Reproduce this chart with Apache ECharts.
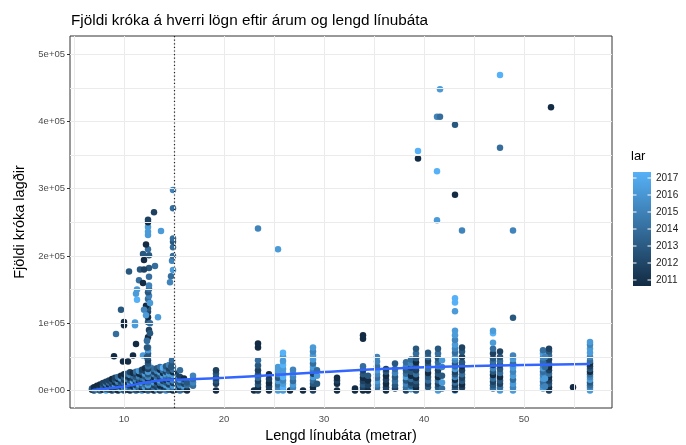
<!DOCTYPE html>
<html><head><meta charset="utf-8">
<script src="https://cdn.jsdelivr.net/npm/echarts@6/dist/echarts.min.js"></script>
<style>html,body{margin:0;padding:0;background:#fff}#c{width:686px;height:445px}</style>
</head><body><div id="c"></div>
<script>
// [length (m), hooks, year]
const smallBoats = [
[6.8,1000,2011],[6.8,3000,2013],[7.0,0,2012],[7.0,2000,2014],[7.0,5000,2011],
[7.3,1000,2015],[7.3,4000,2012],[7.3,7000,2011],[7.6,0,2013],[7.6,3000,2016],[7.6,6000,2012],[7.6,9000,2011],
[7.9,1000,2011],[7.9,4000,2014],[7.9,8000,2013],[7.9,11000,2012],
[8.2,0,2016],[8.2,3000,2012],[8.2,6000,2011],[8.2,10000,2015],[8.2,13000,2012],
[8.5,1000,2013],[8.5,5000,2017],[8.5,8000,2011],[8.5,12000,2014],[8.5,15000,2012],
[8.8,0,2012],[8.8,3000,2011],[8.8,7000,2015],[8.8,10000,2012],[8.8,14000,2013],[8.8,17000,2011],
[9.1,1000,2014],[9.1,4000,2012],[9.1,8000,2016],[9.1,12000,2011],[9.1,16000,2013],[9.1,19000,2012],
[9.4,0,2011],[9.4,5000,2013],[9.4,9000,2012],[9.4,13000,2015],[9.4,17000,2011],[9.4,20000,2014],
[9.7,2000,2016],[9.7,6000,2011],[9.7,10000,2013],[9.7,14000,2012],[9.7,18000,2016],[9.7,22000,2011],
[10.0,0,2013],[10.0,4000,2015],[10.0,8000,2011],[10.0,12000,2014],[10.0,16000,2012],[10.0,20000,2013],[10.0,24000,2011],
[10.3,1000,2012],[10.3,5000,2016],[10.3,9000,2013],[10.3,13000,2011],[10.3,17000,2015],[10.3,21000,2012],[10.3,25000,2014],
[10.6,0,2011],[10.6,3000,2014],[10.6,7000,2012],[10.6,11000,2016],[10.6,15000,2013],[10.6,19000,2011],[10.6,23000,2015],[10.6,27000,2012],
[10.9,2000,2015],[10.9,6000,2011],[10.9,10000,2013],[10.9,14000,2017],[10.9,18000,2012],[10.9,22000,2014],[10.9,26000,2011],
[11.2,0,2013],[11.2,4000,2016],[11.2,8000,2012],[11.2,12000,2011],[11.2,16000,2015],[11.2,20000,2013],[11.2,24000,2012],[11.2,28000,2014],
[11.5,1000,2012],[11.5,5000,2014],[11.5,9000,2016],[11.5,13000,2011],[11.5,17000,2013],[11.5,21000,2015],[11.5,25000,2011],[11.5,29000,2016],
[11.8,0,2015],[11.8,3000,2011],[11.8,7000,2013],[11.8,11000,2016],[11.8,15000,2012],[11.8,19000,2014],[11.8,23000,2011],[11.8,27000,2013],[11.8,31000,2012],
[12.1,1000,2011],[12.1,5000,2016],[12.1,9000,2014],[12.1,13000,2012],[12.1,17000,2015],[12.1,21000,2013],[12.1,25000,2016],[12.1,29000,2012],[12.1,33000,2011],
[12.7,2000,2012],[12.7,6000,2015],[12.7,10000,2011],[12.7,14000,2013],[12.7,18000,2016],[12.7,22000,2012],[12.7,26000,2014],[12.7,30000,2011],[12.7,34000,2015],
[13.0,0,2011],[13.0,4000,2014],[13.0,8000,2012],[13.0,12000,2016],[13.0,16000,2013],[13.0,20000,2011],[13.0,24000,2015],[13.0,28000,2012],[13.0,32000,2014],
[13.3,1000,2016],[13.3,5000,2012],[13.3,9000,2013],[13.3,13000,2011],[13.3,17000,2016],[13.3,21000,2014],[13.3,25000,2012],[13.3,29000,2015],[13.3,33000,2013],
[13.6,0,2012],[13.6,3000,2015],[13.6,7000,2011],[13.6,11000,2014],[13.6,15000,2016],[13.6,19000,2012],[13.6,23000,2013],[13.6,27000,2016],[13.6,31000,2011],[13.6,35000,2014],
[13.9,2000,2014],[13.9,6000,2011],[13.9,10000,2015],[13.9,14000,2012],[13.9,18000,2013],[13.9,22000,2016],[13.9,26000,2011],[13.9,30000,2014],[13.9,34000,2017],
[14.2,0,2015],[14.2,4000,2012],[14.2,8000,2016],[14.2,12000,2013],[14.2,16000,2011],[14.2,20000,2014],[14.2,24000,2016],[14.2,28000,2012],[14.2,32000,2015],[14.2,36000,2013],
[14.5,1000,2013],[14.5,5000,2016],[14.5,9000,2012],[14.5,13000,2015],[14.5,17000,2011],[14.5,21000,2014],[14.5,25000,2016],[14.5,29000,2013],[14.5,33000,2012],[14.5,38000,2015],
[15.2,1000,2012],[15.2,5000,2016],[15.2,9000,2011],[15.2,13000,2014],[15.2,17000,2013],[15.2,21000,2016],[15.2,25000,2012],
[15.6,0,2014],[15.6,4000,2011],[15.6,8000,2015],[15.6,12000,2013],[15.6,16000,2016],[15.6,20000,2012],[15.6,30000,2014],
[16.0,2000,2013],[16.0,6000,2016],[16.0,10000,2012],[16.0,14000,2014],[16.0,18000,2011],
[16.3,0,2011],[16.3,8000,2014],[16.3,12000,2013],[16.9,7000,2014],[16.9,12000,2015],[16.9,17000,2014],[16.9,22000,2015]
];
const spikeColumns = [
[12.4,0,2013],[12.4,4000,2012],[12.4,8000,2016],[12.4,12000,2014],[12.4,16000,2011],[12.4,20000,2015],[12.4,24000,2013],[12.4,28000,2016],[12.4,32000,2012],[12.4,36000,2014],[12.4,40000,2013],[12.4,45000,2012],[12.4,50000,2014],[12.4,55000,2013],[12.4,60000,2016],[12.4,64000,2014],[12.3,74000,2015],[12.4,79000,2011],[12.5,90000,2012],[12.4,102000,2013],[12.4,109000,2011],[12.4,117000,2012],[12.4,122000,2013],[12.2,126000,2011],[12.4,136000,2014],[12.5,141000,2015],[12.4,146000,2013],[12.5,151000,2014],[12.5,156000,2015],[12.5,169000,2014],[12.5,182000,2013],[12.5,201000,2013],[12.4,210000,2014],[12.4,231000,2016],[12.4,236000,2016],[12.4,243000,2016],[12.4,250000,2011],[12.4,254000,2012],
[13.0,265000,2012],[13.1,185000,2014],
[14.9,0,2011],[14.9,3000,2014],[14.9,7000,2016],[14.9,11000,2012],[14.9,15000,2015],[14.9,19000,2013],[14.9,23000,2016],[14.9,27000,2011],[14.9,31000,2014],[14.9,35000,2015],[14.8,40000,2013],[14.8,45000,2014],
[14.6,161000,2015],[14.7,170000,2014],[14.9,179000,2016],[14.8,193000,2015],[14.9,200000,2014],[14.9,213000,2014],[14.9,221000,2013],[14.9,226000,2014],[14.9,271000,2014],[14.9,298000,2015],
[9.7,120000,2013],[10.0,102000,2011],[10.0,97000,2011],[11.1,101000,2016],[11.1,97000,2016],[9.2,84000,2014],[9.0,51000,2011],[9.9,43000,2011],[10.4,43000,2011],[10.9,52000,2011],[11.2,69000,2011],[11.9,52000,2016],[12.3,50000,2013],
[10.5,177000,2013],[11.6,180000,2013],[12.0,180000,2012],[11.5,164000,2014],[11.9,160000,2011],[11.3,150000,2016],[11.2,144000,2016],[11.3,135000,2017],[12.0,194000,2011],[11.9,203000,2013],[12.2,217000,2011],[13.7,237000,2016],[13.4,109000,2016],[12.3,64000,2013],[12.3,74000,2014],
[12.0,120000,2015],[12.6,130000,2016],[12.2,112000,2016],[12.6,100000,2014],[12.6,85000,2013],[14.7,35000,2013]
];
const midBoats = [
[19.2,0,2011],[19.2,10000,2012],[19.2,15000,2013],[19.2,19000,2012],[19.2,25000,2013],[19.2,30000,2012],
[23.0,0,2011],[23.4,0,2012],[23.4,4000,2011],[23.4,9000,2013],[23.4,14000,2012],[23.4,19000,2014],[23.4,24000,2013],[23.4,30000,2012],[23.4,37000,2013],[23.4,45000,2014],[23.4,64000,2011],[23.4,70000,2011],
[24.5,0,2011],[24.5,6000,2012],[24.5,11000,2011],[24.5,17000,2012],[24.5,24000,2011],
[25.4,0,2016],[25.4,4000,2015],[25.4,9000,2014],[25.4,14000,2016],[25.4,19000,2013],[25.4,24000,2015],[25.4,30000,2016],[25.4,35000,2016],
[25.9,0,2016],[25.9,5000,2017],[25.9,10000,2016],[25.9,15000,2015],[25.9,20000,2017],[25.9,26000,2016],[25.9,32000,2016],[25.9,38000,2017],[25.9,44000,2016],[25.9,51000,2016],[25.9,56000,2017],
[26.6,0,2011],[26.9,4000,2015],[26.9,9000,2016],[26.9,14000,2014],[26.9,20000,2015],[26.9,26000,2016],[26.9,31000,2015],
[27.9,0,2011],
[28.9,0,2012],[28.9,5000,2011],[28.9,10000,2013],[28.9,15000,2014],[28.9,20000,2016],[28.9,25000,2012],[28.9,30000,2015],[28.9,35000,2016],[28.9,40000,2014],[28.9,46000,2016],[28.9,52000,2016],[28.9,58000,2015],[28.9,64000,2016],
[29.3,10000,2013],[29.3,22000,2016],[29.3,30000,2014],
[31.3,0,2011],[31.3,10000,2011],[31.3,15000,2012],[31.3,19000,2011],
[33.1,0,2011],[33.1,3000,2011],
[33.9,0,2011],[33.9,4000,2012],[33.9,9000,2013],[33.9,14000,2012],[33.9,19000,2011],[33.9,24000,2013],[33.9,30000,2012],[33.9,36000,2014],[33.9,77000,2011],[33.9,82000,2011],
[34.4,0,2011],[34.4,8000,2012],[34.4,15000,2011],[34.4,22000,2013],
[35.3,4000,2014],[35.3,9000,2015],[35.3,14000,2016],[35.3,19000,2014],[35.3,24000,2015],[35.3,30000,2016],[35.3,36000,2014],[35.3,43000,2015],[35.3,50000,2015],
[36.2,0,2011],[36.2,5000,2012],[36.2,10000,2011],[36.2,16000,2012],[36.2,22000,2011],[36.2,28000,2013],[36.2,32000,2012],
[37.1,3000,2012],[37.1,8000,2013],[37.1,14000,2014],[37.1,20000,2013],[37.1,26000,2015],[37.1,32000,2014],[37.1,40000,2013],
[38.2,0,2012],[38.2,5000,2014],[38.2,10000,2015],[38.2,15000,2013],[38.2,20000,2016],[38.2,25000,2014],[38.2,30000,2013],[38.2,36000,2015],[38.2,42000,2014],
[38.7,2000,2016],[38.7,7000,2013],[38.7,12000,2012],[38.7,17000,2014],[38.7,22000,2011],[38.7,28000,2013],[38.7,34000,2012],[38.7,40000,2015],[38.7,46000,2014],
[39.2,0,2013],[39.2,4000,2011],[39.2,9000,2012],[39.2,14000,2013],[39.2,19000,2011],[39.2,24000,2014],[39.2,30000,2012],[39.2,36000,2013],[39.2,42000,2011],[39.2,48000,2013],[39.2,55000,2014],[39.2,62000,2013]
];
const largeBoats = [
[40.4,5000,2013],[40.4,10000,2012],[40.4,15000,2014],[40.4,20000,2013],[40.4,26000,2011],[40.4,32000,2014],[40.4,38000,2013],[40.4,44000,2012],[40.4,50000,2014],[40.4,56000,2013],
[41.4,0,2016],[41.4,5000,2013],[41.4,10000,2012],[41.4,15000,2014],[41.4,20000,2011],[41.4,25000,2013],[41.4,30000,2012],[41.4,36000,2015],[41.4,42000,2014],[41.4,48000,2013],[41.4,55000,2014],[41.4,62000,2013],
[41.8,3000,2014],[41.8,12000,2016],[41.8,22000,2013],[41.8,35000,2015],[41.8,45000,2016],
[43.1,0,2016],[43.1,1000,2011],[43.1,4000,2013],[43.1,8000,2012],[43.1,12000,2014],[43.1,16000,2011],[43.1,20000,2015],[43.1,24000,2013],[43.1,28000,2012],[43.1,32000,2016],[43.1,36000,2014],[43.1,40000,2013],[43.1,45000,2015],[43.1,50000,2016],[43.1,56000,2014],[43.1,62000,2015],[43.1,68000,2016],[43.1,75000,2015],[43.1,82000,2016],[43.1,89000,2016],
[43.1,118000,2016],[43.1,131000,2017],[43.1,137000,2017],
[43.8,4000,2012],[43.8,9000,2011],[43.8,14000,2013],[43.8,19000,2012],[43.8,24000,2014],[43.8,30000,2012],[43.8,36000,2011],[43.8,42000,2013],[43.8,50000,2012],[43.8,58000,2013],[43.8,64000,2012],
[46.9,3000,2014],[46.9,8000,2013],[46.9,13000,2012],[46.9,18000,2014],[46.9,23000,2011],[46.9,28000,2013],[46.9,33000,2015],[46.9,38000,2012],[46.9,43000,2014],[46.9,48000,2013],[46.9,55000,2012],[46.9,62000,2014],[46.9,71000,2016],[46.9,85000,2017],[46.9,89000,2016],
[47.6,0,2016],[47.6,5000,2014],[47.6,10000,2012],[47.6,15000,2013],[47.6,20000,2011],[47.6,26000,2014],[47.6,32000,2013],[47.6,38000,2012],[47.6,44000,2014],[47.6,50000,2013],[47.6,58000,2012],
[48.9,0,2016],[48.9,5000,2015],[48.9,10000,2016],[48.9,16000,2014],[48.9,22000,2016],[48.9,28000,2015],[48.9,34000,2016],[48.9,40000,2014],[48.9,47000,2016],[48.9,52000,2015],
[51.9,3000,2016],[51.9,8000,2015],[51.9,13000,2014],[51.9,18000,2016],[51.9,23000,2015],[51.9,28000,2014],[51.9,33000,2016],[51.9,38000,2015],[51.9,43000,2014],[51.9,49000,2015],[51.9,55000,2016],[51.9,60000,2014],
[52.5,0,2012],[52.5,5000,2011],[52.5,10000,2013],[52.5,15000,2012],[52.5,20000,2011],[52.5,25000,2014],[52.5,30000,2012],[52.5,35000,2011],[52.5,40000,2013],[52.5,46000,2012],[52.5,52000,2014],[52.5,58000,2013],[52.5,62000,2012],
[52.1,6000,2015],[52.1,18000,2016],[52.1,35000,2014],[52.1,50000,2015],
[54.9,5000,2011],
[56.6,0,2016],[56.6,4000,2015],[56.6,8000,2014],[56.6,12000,2013],[56.6,16000,2016],[56.6,20000,2015],[56.6,24000,2014],[56.6,28000,2011],[56.6,32000,2013],[56.6,36000,2012],[56.6,40000,2011],[56.6,44000,2014],[56.6,50000,2015],[56.6,56000,2016],[56.6,62000,2016],[56.6,68000,2015],[56.6,72000,2016]
];
const outliers = [
[39.4,356000,2017],[39.4,345000,2011],[41.6,448000,2016],[41.3,407000,2015],[41.6,407000,2014],[43.1,395000,2013],[47.6,469000,2017],[52.7,421000,2011],[41.3,326000,2017],[47.6,361000,2014],[43.1,291000,2011],[41.3,253000,2016],[43.8,238000,2015],[48.9,238000,2015],[48.9,108000,2013],[23.4,241000,2015],[25.4,210000,2016]
];
// loess trend
const trendX = [6.8, 8, 10, 12, 14, 16, 20, 25, 30, 35, 40, 45, 50, 56.6];
const trendY = [500, 2500, 6000, 11500, 15500, 16500, 19000, 23000, 27500, 31500, 34500, 36500, 38000, 39500];
const xTicks = [10, 20, 30, 40, 50];
const yTicks = [0, 100000, 200000, 300000, 400000, 500000];
const yTickLabels = ['0e+00', '1e+05', '2e+05', '3e+05', '4e+05', '5e+05'];
const xGrid = [5, 10, 15, 20, 25, 30, 35, 40, 45, 50, 55];
const yGrid = [0, 50000, 100000, 150000, 200000, 250000, 300000, 350000, 400000, 450000, 500000];
const years = [2011, 2012, 2013, 2014, 2015, 2016, 2017];
const cutoff = 15;

const FONT = 'Liberation Sans';
const allPoints = smallBoats.concat(spikeColumns, midBoats, largeBoats, outliers);
const chart = echarts.init(document.getElementById('c'), null, {renderer: 'canvas'});

// colorbar legend
const barX = 633, barTop = 172, barH = 114, barW = 18;
const graphics = [
  {type: 'text', left: 631, top: 150, style: {text: 'lar', font: '13px ' + FONT, fill: '#000'}},
  {type: 'rect', shape: {x: barX, y: barTop, width: barW, height: barH},
   style: {fill: new echarts.graphic.LinearGradient(0, 0, 0, 1, [{offset: 0, color: '#56B1F7'}, {offset: 1, color: '#132B43'}])}}
];
years.forEach(function (yr) {
  const yy = barTop + 6 + (2017 - yr) * (barH - 12) / 6;
  graphics.push({type: 'line', shape: {x1: barX, y1: yy, x2: barX + 3.5, y2: yy}, style: {stroke: '#fff', lineWidth: 1}});
  graphics.push({type: 'line', shape: {x1: barX + barW - 3.5, y1: yy, x2: barX + barW, y2: yy}, style: {stroke: '#fff', lineWidth: 1}});
  graphics.push({type: 'text', x: barX + barW + 5, y: yy, style: {text: String(yr), font: '10px ' + FONT, fill: '#1a1a1a', verticalAlign: 'middle'}});
});

chart.setOption({
  animation: false,
  backgroundColor: '#fff',
  title: {text: 'Fjöldi króka á hverri lögn eftir árum og lengd línubáta', left: 66, top: 8,
    textStyle: {fontFamily: FONT, fontSize: 15.3, fontWeight: 'normal', color: '#000'}},
  grid: {left: 70, right: 74, top: 36, bottom: 37, show: true, borderColor: '#333', borderWidth: 1, backgroundColor: 'transparent',
    outerBoundsMode: 'none', containLabel: false},
  visualMap: {show: false, type: 'continuous', min: 2011, max: 2017, dimension: 2, seriesIndex: 1,
    inRange: {color: ['#132B43', '#56B1F7']}},
  xAxis: {type: 'value', min: 4.6, max: 58.8,
    name: 'Lengd línubáta (metrar)', nameLocation: 'middle', nameGap: 20,
    nameTextStyle: {fontFamily: FONT, fontSize: 14.5, color: '#000', verticalAlign: 'top'},
    axisLine: {show: false},
    axisTick: {show: true, length: 3, lineStyle: {color: '#333'}, customValues: xTicks},
    axisLabel: {customValues: xTicks, fontFamily: FONT, fontSize: 9.5, color: '#4d4d4d', margin: 6},
    splitLine: {show: false}},
  yAxis: {type: 'value', min: -26000, max: 527000,
    name: 'Fjöldi króka lagðir', nameLocation: 'middle', nameGap: 43, nameRotate: 90,
    nameTextStyle: {fontFamily: FONT, fontSize: 14.5, color: '#000'},
    axisLine: {show: false},
    axisTick: {show: true, length: 3, lineStyle: {color: '#333'}, customValues: yTicks},
    axisLabel: {customValues: yTicks, fontFamily: FONT, fontSize: 9.5, color: '#4d4d4d', margin: 5,
      formatter: function (v) { const i = yTicks.indexOf(v); return i >= 0 ? yTickLabels[i] : ''; }},
    splitLine: {show: false}},
  graphic: graphics,
  series: [
    {type: 'line', data: [], z: 0, silent: true,
     markLine: {silent: true, symbol: 'none', label: {show: false}, animation: false,
       lineStyle: {color: '#ebebeb', type: 'solid', width: 1},
       data: xGrid.map(function (v) { return {xAxis: v}; }).concat(yGrid.map(function (v) { return {yAxis: v}; }))}},
    {type: 'scatter', data: allPoints, symbolSize: 6.5, z: 2, itemStyle: {opacity: 1}},
    {type: 'line', data: trendX.map(function (x, i) { return [x, trendY[i]]; }), smooth: true, showSymbol: false, z: 3,
     lineStyle: {color: '#3366FF', width: 2.5}},
    {type: 'line', data: [], z: 4, silent: true,
     markLine: {silent: true, symbol: 'none', label: {show: false}, animation: false,
       lineStyle: {color: '#222', type: [1.2, 2.4], width: 1.2},
       data: [{xAxis: cutoff}]}}
  ]
});
</script></body></html>
